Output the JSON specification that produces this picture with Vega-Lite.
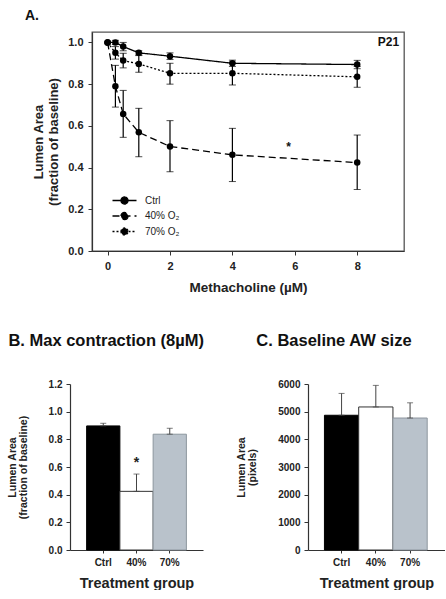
{
  "$schema": "https://vega.github.io/schema/vega-lite/v6.json",
  "padding": {"left": 7, "top": 8, "right": 0, "bottom": 0},
  "background": "white",
  "config": {
    "font": "Liberation Sans",
    "view": {"stroke": null},
    "axis": {"domainColor": "#333", "tickColor": "#333", "labelColor": "#222", "titleColor": "#222", "grid": false, "labelFontWeight": "bold", "titleFontWeight": "bold", "tickSize": 4, "domainWidth": 1.2, "tickWidth": 1},
    "title": {"anchor": "start", "frame": "group", "fontWeight": "bold", "color": "#111"}
  },
  "datasets": {
    "curve": [
      {"group": "Ctrl", "dose": 0, "mean": 1.0, "lo": 1.0, "hi": 1.0},
      {"group": "Ctrl", "dose": 0.25, "mean": 1.0, "lo": 0.99, "hi": 1.01},
      {"group": "Ctrl", "dose": 0.5, "mean": 0.98, "lo": 0.96, "hi": 1.0},
      {"group": "Ctrl", "dose": 1, "mean": 0.95, "lo": 0.94, "hi": 0.96},
      {"group": "Ctrl", "dose": 2, "mean": 0.934, "lo": 0.918, "hi": 0.95},
      {"group": "Ctrl", "dose": 4, "mean": 0.9, "lo": 0.885, "hi": 0.915},
      {"group": "Ctrl", "dose": 8, "mean": 0.894, "lo": 0.874, "hi": 0.914},
      {"group": "40% O₂", "dose": 0, "mean": 1.0, "lo": 1.0, "hi": 1.0},
      {"group": "40% O₂", "dose": 0.25, "mean": 0.79, "lo": 0.69, "hi": 0.89},
      {"group": "40% O₂", "dose": 0.5, "mean": 0.657, "lo": 0.545, "hi": 0.77},
      {"group": "40% O₂", "dose": 1, "mean": 0.569, "lo": 0.452, "hi": 0.684},
      {"group": "40% O₂", "dose": 2, "mean": 0.501, "lo": 0.38, "hi": 0.625},
      {"group": "40% O₂", "dose": 4, "mean": 0.461, "lo": 0.333, "hi": 0.588},
      {"group": "40% O₂", "dose": 8, "mean": 0.424, "lo": 0.295, "hi": 0.556},
      {"group": "70% O₂", "dose": 0, "mean": 1.0, "lo": 1.0, "hi": 1.0},
      {"group": "70% O₂", "dose": 0.25, "mean": 0.95, "lo": 0.92, "hi": 0.98},
      {"group": "70% O₂", "dose": 0.5, "mean": 0.913, "lo": 0.878, "hi": 0.948},
      {"group": "70% O₂", "dose": 1, "mean": 0.897, "lo": 0.857, "hi": 0.937},
      {"group": "70% O₂", "dose": 2, "mean": 0.852, "lo": 0.8, "hi": 0.9},
      {"group": "70% O₂", "dose": 4, "mean": 0.852, "lo": 0.796, "hi": 0.905},
      {"group": "70% O₂", "dose": 8, "mean": 0.835, "lo": 0.785, "hi": 0.885}
    ],
    "notes": [
      {"note": "P21", "dose": 9.0, "mean": 1.0},
      {"note": "*", "dose": 5.8, "mean": 0.5}
    ],
    "maxc": [
      {"group": "Ctrl", "value": 0.897, "hi": 0.916, "sig": ""},
      {"group": "40%", "value": 0.424, "hi": 0.549, "sig": "*"},
      {"group": "70%", "value": 0.837, "hi": 0.88, "sig": ""}
    ],
    "base": [
      {"group": "Ctrl", "value": 4870, "hi": 5660},
      {"group": "40%", "value": 5170, "hi": 5950},
      {"group": "70%", "value": 4770, "hi": 5320}
    ]
  },
  "bounds": "full",
  "spacing": 37,
  "vconcat": [
    {
      "bounds": "flush",
      "spacing": 21,
      "hconcat": [
        {
          "width": 1,
          "height": 1,
          "data": {"values": []},
          "mark": {"type": "point", "opacity": 0}
        },
        {
          "width": 312,
          "height": 219,
          "view": {"stroke": "#555", "strokeWidth": 1.3},
          "title": {"text": "A.", "fontSize": 14, "dx": -67, "offset": 9},
          "data": {"name": "curve"},
          "encoding": {
            "x": {
              "field": "dose", "type": "quantitative",
              "scale": {"domain": [-0.5, 9.5], "nice": false, "zero": false},
              "axis": {"values": [0, 2, 4, 6, 8], "title": "Methacholine (µM)", "titleFontSize": 13.5, "labelFontSize": 11, "labelPadding": 5, "titlePadding": 9, "labelFlush": false}
            }
          },
          "layer": [
            {
              "transform": [{"filter": "datum.dose > 0"}],
              "mark": {"type": "errorbar", "color": "black", "ticks": {"size": 7, "strokeWidth": 1.2}, "rule": {"strokeWidth": 1.2}},
              "encoding": {
                "y": {"field": "lo", "type": "quantitative", "scale": {"domain": [0, 1.05], "nice": false},
                  "axis": {"values": [0, 0.2, 0.4, 0.6, 0.8, 1.0], "format": ".1f", "labelFontSize": 11, "labelPadding": 5, "title": ["Lumen Area", "(fraction of baseline)"], "titleFontSize": 13, "titleLineHeight": 15, "titlePadding": 7}},
                "y2": {"field": "hi"}
              }
            },
            {
              "mark": {"type": "line", "color": "black", "strokeWidth": 1.3},
              "encoding": {
                "y": {
                  "field": "mean", "type": "quantitative",
                  "axis": {"values": [0, 0.2, 0.4, 0.6, 0.8, 1.0], "format": ".1f", "labelFontSize": 11, "labelPadding": 5, "title": ["Lumen Area", "(fraction of baseline)"], "titleFontSize": 13, "titleLineHeight": 15, "titlePadding": 7}
                },
                "strokeDash": {
                  "field": "group", "type": "nominal", "sort": ["Ctrl", "40% O₂", "70% O₂"],
                  "scale": {"domain": ["Ctrl", "40% O₂", "70% O₂"], "range": [[1, 0], [7, 4], [2, 2]]},
                  "legend": {
                    "title": null, "orient": "none", "legendX": 46, "legendY": 160,
                    "symbolType": "M-1.6,0L1.6,0M-0.47,0A0.47,0.47,0,1,1,0.47,0A0.47,0.47,0,1,1,-0.47,0Z",
                    "symbolSize": 225, "symbolStrokeWidth": 1.3, "symbolStrokeColor": "black", "symbolFillColor": "black",
                    "labelFontSize": 10, "labelOffset": 12, "labelColor": "#222", "rowPadding": 0.5,
                    "encode": {"symbols": {"update": {"fill": {"value": "black"}, "stroke": {"value": "black"}}}}
                  }
                }
              }
            },
            {
              "mark": {"type": "point", "filled": true, "color": "black", "size": 42, "opacity": 1},
              "encoding": {
                "y": {"field": "mean", "type": "quantitative",
                  "axis": {"values": [0, 0.2, 0.4, 0.6, 0.8, 1.0], "format": ".1f", "labelFontSize": 11, "labelPadding": 5, "title": ["Lumen Area", "(fraction of baseline)"], "titleFontSize": 13, "titleLineHeight": 15, "titlePadding": 7}},
                "detail": {"field": "group"}
              }
            },
            {
              "data": {"name": "notes"},
              "mark": {"type": "text", "fontWeight": "bold", "fontSize": 12, "color": "#111", "align": "center", "baseline": "middle"},
              "encoding": {
                "y": {"field": "mean", "type": "quantitative",
                  "axis": {"values": [0, 0.2, 0.4, 0.6, 0.8, 1.0], "format": ".1f", "labelFontSize": 11, "labelPadding": 5, "title": ["Lumen Area", "(fraction of baseline)"], "titleFontSize": 13, "titleLineHeight": 15, "titlePadding": 7}},
                "text": {"field": "note"}
              }
            }
          ]
        }
      ]
    },
    {
      "bounds": "flush",
      "spacing": 105,
      "hconcat": [
        {
          "width": 133,
          "height": 166,
          "title": {"text": "B. Max contraction (8µM)", "fontSize": 16.5, "dx": -61.6, "offset": 30},
          "data": {"name": "maxc"},
          "encoding": {
            "x": {
              "field": "group", "type": "nominal", "sort": ["Ctrl", "40%", "70%"],
              "scale": {"paddingInner": 0, "paddingOuter": 0.5},
              "axis": {"labelAngle": 0, "title": "Treatment group", "titleFontSize": 14.5, "labelFontSize": 10, "labelPadding": 4, "titlePadding": 9, "tickSize": 3}
            },
            "y": {
              "field": "value", "type": "quantitative",
              "scale": {"domain": [0, 1.2], "nice": false},
              "axis": {"values": [0, 0.2, 0.4, 0.6, 0.8, 1.0, 1.2], "format": ".1f", "labelFontSize": 10, "labelPadding": 4, "title": ["Lumen Area", "(fraction of baseline)"], "titleFontSize": 10.5, "titleLineHeight": 11, "titlePadding": 20}
            }
          },
          "layer": [
            {
              "mark": {"type": "bar", "strokeWidth": 1},
              "encoding": {
                "fill": {"field": "group", "type": "nominal", "scale": {"domain": ["Ctrl", "40%", "70%"], "range": ["#000000", "#ffffff", "#b9c2cb"]}, "legend": null},
                "stroke": {"field": "group", "type": "nominal", "scale": {"domain": ["Ctrl", "40%", "70%"], "range": ["#000000", "#333333", "#8d969e"]}, "legend": null}
              }
            },
            {
              "mark": {"type": "errorbar", "color": "#444", "ticks": {"size": 6, "strokeWidth": 1}, "rule": {"strokeWidth": 1}},
              "encoding": {
                "y2": {"field": "hi"}
              }
            },
            {
              "mark": {"type": "text", "fontWeight": "bold", "fontSize": 14, "color": "#222", "baseline": "alphabetic", "dy": -7},
              "encoding": {
                "y": {"field": "hi", "type": "quantitative", "title": ["Lumen Area", "(fraction of baseline)"]},
                "text": {"field": "sig"}
              }
            }
          ]
        },
        {
          "width": 137,
          "height": 166,
          "title": {"text": "C. Baseline AW size", "fontSize": 16.5, "dx": -51.7, "offset": 30},
          "data": {"name": "base"},
          "encoding": {
            "x": {
              "field": "group", "type": "nominal", "sort": ["Ctrl", "40%", "70%"],
              "scale": {"paddingInner": 0, "paddingOuter": 0.5, "align": 0.48},
              "axis": {"labelAngle": 0, "title": "Treatment group", "titleFontSize": 14.5, "labelFontSize": 10, "labelPadding": 4, "titlePadding": 9, "tickSize": 3}
            },
            "y": {
              "field": "value", "type": "quantitative",
              "scale": {"domain": [0, 6000], "nice": false},
              "axis": {"values": [0, 1000, 2000, 3000, 4000, 5000, 6000], "format": "d", "labelFontSize": 10, "labelPadding": 4, "title": ["Lumen Area", "(pixels)"], "titleFontSize": 10.5, "titleLineHeight": 11, "titlePadding": 20}
            }
          },
          "layer": [
            {
              "mark": {"type": "bar", "strokeWidth": 1},
              "encoding": {
                "fill": {"field": "group", "type": "nominal", "scale": {"domain": ["Ctrl", "40%", "70%"], "range": ["#000000", "#ffffff", "#b9c2cb"]}, "legend": null},
                "stroke": {"field": "group", "type": "nominal", "scale": {"domain": ["Ctrl", "40%", "70%"], "range": ["#000000", "#333333", "#8d969e"]}, "legend": null}
              }
            },
            {
              "mark": {"type": "errorbar", "color": "#444", "ticks": {"size": 6, "strokeWidth": 1}, "rule": {"strokeWidth": 1}},
              "encoding": {
                "y2": {"field": "hi"}
              }
            }
          ]
        }
      ]
    }
  ]
}
